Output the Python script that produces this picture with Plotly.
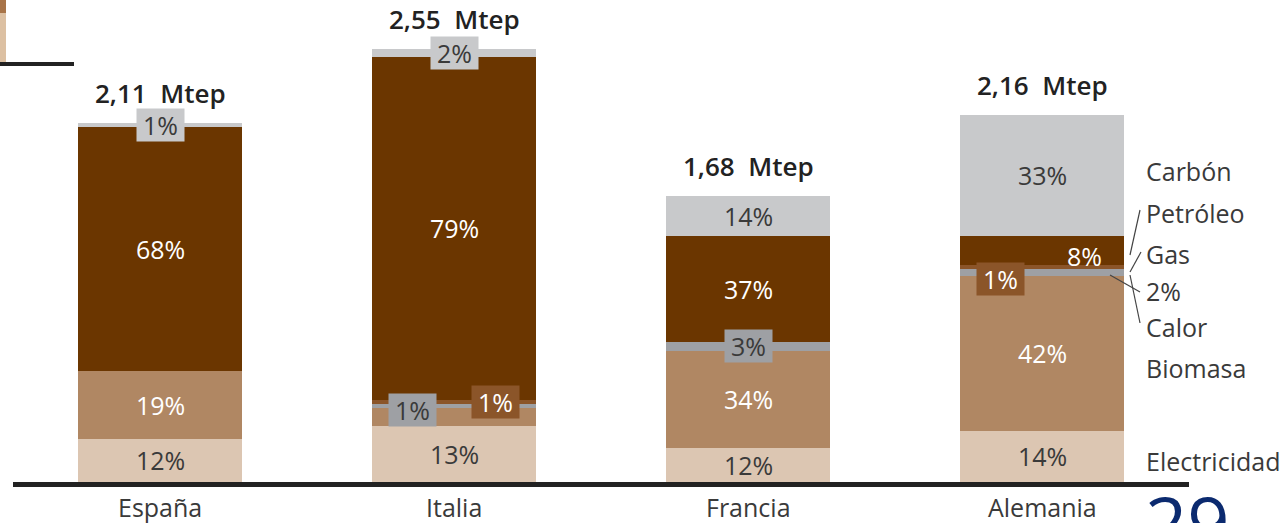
import plotly.graph_objects as go

# ---------------- data ----------------
countries = ["España", "Italia", "Francia", "Alemania"]
totals_mtep = [2.11, 2.55, 1.68, 2.16]
# shares (%) of each source in each country's total
electricidad = [12, 13, 12, 14]
biomasa = [19, 4, 34, 42]
gas = [0, 1, 3, 2]
calor = [0, 1, 0, 1]
petroleo = [68, 79, 37, 8]
carbon = [1, 2, 14, 33]
legend_labels = ["Carbón", "Petróleo", "Gas", "2%", "Calor", "Biomasa", "Electricidad"]
page_number = "29"

# ---------------- style ----------------
FONT = "Open Sans"
DARK_TXT = "#3a3a3a"
series = [
    ("Electricidad", electricidad, "#dcc6b2", DARK_TXT),
    ("Biomasa", biomasa, "#b08763", "#ffffff"),
    ("Gas", gas, "#9ea0a4", DARK_TXT),
    ("Calor", calor, "#8b5529", "#ffffff"),
    ("Petróleo", petroleo, "#6b3600", "#ffffff"),
    ("Carbón", carbon, "#c8c9cb", DARK_TXT),
]
hidden = {("Italia", "Biomasa"), ("Alemania", "Gas")}
# boxed labels: (country, series) -> (bgcolor, xshift, yshift)
boxes = {
    ("España", "Carbón"): ("#c8c9cb", 0, 0),
    ("Italia", "Carbón"): ("#c8c9cb", 0, 0),
    ("Italia", "Gas"): ("#9ea0a4", -42, -4),
    ("Italia", "Calor"): ("#8b5529", 41, 0),
    ("Francia", "Gas"): ("#9ea0a4", 0, 0),
    ("Alemania", "Calor"): ("#8b5529", -42, -12),
}
plain_shift = {("Alemania", "Petróleo"): (42, -5)}

PX_PER_UNIT = 170.0
BASE_PX = 482.0
L_MARGIN, PLOT_W = 13, 1176
T_MARGIN, PLOT_H = 0, 490


def py(p):  # pixel row -> data y
    return (BASE_PX - p) / PX_PER_UNIT


def px(p):  # pixel col -> paper x
    return (p - L_MARGIN) / PLOT_W


def pyp(p):  # pixel row -> paper y
    return (T_MARGIN + PLOT_H - p) / PLOT_H


fig = go.Figure()
xs = list(range(len(countries)))
for name, shares, color, _ in series:
    fig.add_trace(go.Bar(
        x=xs,
        y=[s / 100 * t for s, t in zip(shares, totals_mtep)],
        name=name,
        marker=dict(color=color, line=dict(width=0)),
        width=0.558,
        hoverinfo="skip",
    ))

annotations = []
for i, c in enumerate(countries):
    cum = 0.0
    for name, shares, color, tcol in series:
        h = shares[i] / 100 * totals_mtep[i]
        mid = cum + h / 2
        cum += h
        if shares[i] == 0 or (c, name) in hidden:
            continue
        a = dict(x=i, y=mid, xref="x", yref="y", text=f"{shares[i]}%", showarrow=False,
                 xanchor="center", yanchor="middle",
                 font=dict(family=FONT, size=25, color=tcol))
        if (c, name) in boxes:
            bg, xs_, ys_ = boxes[(c, name)]
            a.update(bgcolor=bg, width=47, height=32, xshift=xs_, yshift=ys_, borderpad=0)
        elif (c, name) in plain_shift:
            a.update(xshift=plain_shift[(c, name)][0], yshift=plain_shift[(c, name)][1])
        annotations.append(a)
    # total label
    annotations.append(dict(x=i, y=totals_mtep[i], xref="x", yref="y",
                            text=f"{totals_mtep[i]:.2f}".replace(".", ",") + "  Mtep",
                            showarrow=False, yshift=30, xanchor="center", yanchor="middle",
                            font=dict(family=FONT, size=26, color="#222222", weight=600)))
    # category label
    annotations.append(dict(x=i, y=pyp(507), xref="x", yref="paper", text=c, showarrow=False,
                            xanchor="center", yanchor="middle",
                            font=dict(family=FONT, size=25, color="#3a3a3a")))

legend_rows = [171, 213, 254, 291, 327, 368, 461]
for lab, row in zip(legend_labels, legend_rows):
    annotations.append(dict(x=px(1144), y=pyp(row), xref="paper", yref="paper", text=lab,
                            xanchor="left", yanchor="middle", showarrow=False,
                            font=dict(family=FONT, size=25, color="#3a3a3a")))

annotations.append(dict(x=px(1187), y=pyp(469), xref="paper", yref="paper", text=page_number,
                        xanchor="center", yanchor="top", showarrow=False,
                        font=dict(family=FONT, size=74, color="#0b2a6f")))

shapes = [
    # baseline
    dict(type="rect", xref="paper", yref="y", x0=0, x1=1, y0=0, y1=py(487),
         fillcolor="#222222", line=dict(width=0), layer="above"),
    # cut-off fragment at top-left
    dict(type="rect", xref="paper", yref="paper", x0=px(0), x1=px(6), y0=pyp(13), y1=pyp(0),
         fillcolor="#a87448", line=dict(width=0)),
    dict(type="rect", xref="paper", yref="paper", x0=px(0), x1=px(6), y0=pyp(62), y1=pyp(13),
         fillcolor="#dcc0a2", line=dict(width=0)),
    dict(type="rect", xref="paper", yref="paper", x0=px(0), x1=px(74), y0=pyp(66), y1=pyp(62),
         fillcolor="#222222", line=dict(width=0)),
]
leaders = [((1140, 210), (1130, 255)), ((1141, 252), (1130, 272)),
           ((1110, 275), (1140, 292)), ((1130, 275), (1140, 323))]
for (x0, y0), (x1, y1) in leaders:
    shapes.append(dict(type="line", xref="paper", yref="paper", x0=px(x0), y0=pyp(y0),
                       x1=px(x1), y1=pyp(y1), line=dict(color="#444444", width=1.2)))

fig.update_layout(
    width=1281, height=523,
    margin=dict(l=L_MARGIN, r=1281 - L_MARGIN - PLOT_W, t=T_MARGIN, b=523 - PLOT_H),
    barmode="stack",
    showlegend=False,
    plot_bgcolor="white", paper_bgcolor="white",
    xaxis=dict(range=[-0.5, 3.5], visible=False, fixedrange=True),
    yaxis=dict(range=[py(T_MARGIN + PLOT_H), py(T_MARGIN)], visible=False, fixedrange=True),
    annotations=annotations,
    shapes=shapes,
)

fig.write_html("out.html", config={"displayModeBar": False})
